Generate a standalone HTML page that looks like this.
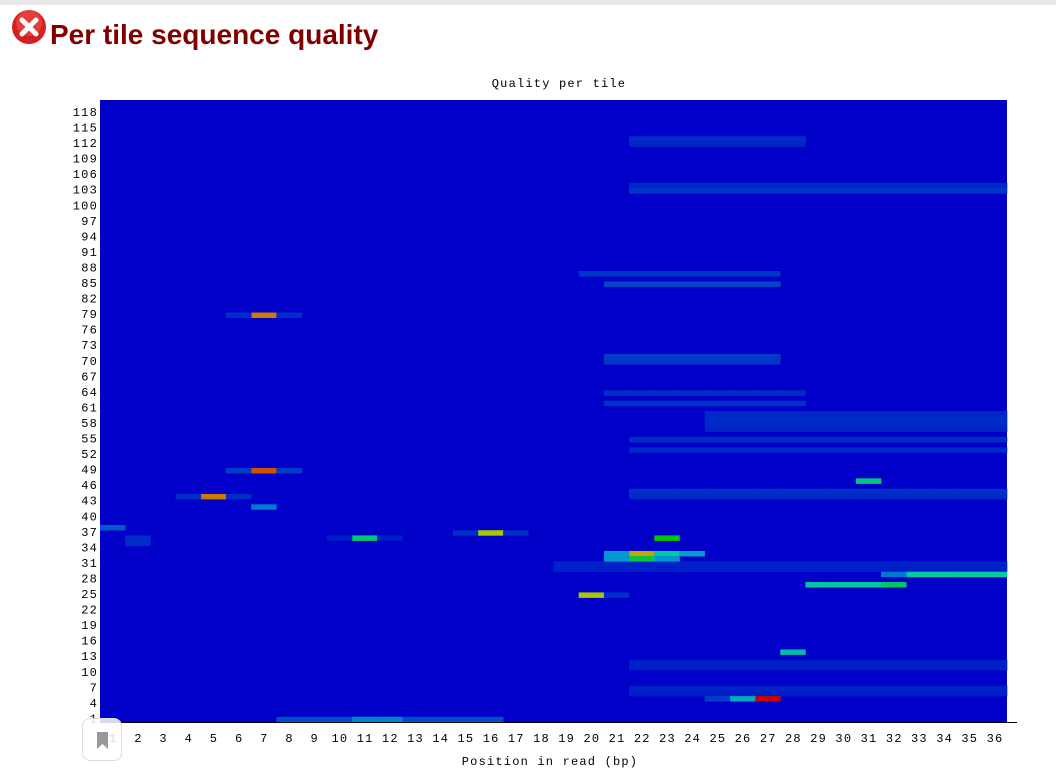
<!DOCTYPE html>
<html><head><meta charset="utf-8"><style>
body{margin:0;width:1056px;height:769px;background:#fff;overflow:hidden;font-family:"Liberation Sans",sans-serif;position:relative}
.topbar{position:absolute;left:0;top:0;width:1056px;height:5px;background:#e8e8e8}
h2{position:absolute;left:50px;top:19px;margin:0;font-size:28px;font-weight:bold;color:#800000}
</style></head><body>
<div class="topbar"></div>
<svg style="position:absolute;left:11px;top:9px" width="36" height="36">
<circle cx="18" cy="18" r="17" fill="#d42020"/><circle cx="18" cy="14" r="13" fill="#f05050" opacity="0.6"/>
<path d="M11 11 L25 25 M25 11 L11 25" stroke="#fff" stroke-width="5" stroke-linecap="round"/></svg>
<h2>Per tile sequence quality</h2>
<svg id="chart" style="position:absolute;left:0;top:0" width="1056" height="769"></svg>
<div style="position:absolute;left:82px;top:718px;width:38px;height:41px;border:1px solid #ddd;border-radius:8px;background:rgba(255,255,255,0.85)">
<svg width="38" height="41"><path d="M14 13 h11 v17 l-5.5 -5 l-5.5 5z" fill="#999"/></svg></div>
<script>
const positions = [1,2,3,4,5,6,7,8,9,10,11,12,13,14,15,16,17,18,19,20,21,22,23,24,25,26,27,28,29,30,31,32,33,34,35,36];
const yTicks = [1,4,7,10,13,16,19,22,25,28,31,34,37,40,43,46,49,52,55,58,61,64,67,70,73,76,79,82,85,88,91,94,97,100,103,106,109,112,115,118];
// band data: tile, start position, end position, value
const bandTiles = [113,112,104,103,87,85,71,70,64,62,60,59,58,57,55,53,45,44,31,30,12,11,7,6,1,1];
const bandStart = [22,22,22,22,20,21,21,21,21,21,25,25,25,25,22,22,22,22,19,19,22,22,22,22,8,11];
const bandEnd   = [28,28,36,36,27,27,27,27,28,28,36,36,36,36,36,36,36,36,36,36,36,36,36,36,16,12];
const bandVals  = [1.5,1.2,1.3,1.8,1.8,2.2,2,1.8,1.5,1.6,1.3,1.5,1.4,1.2,1.5,1.3,1.6,1.4,1.1,1,1.1,1,1.1,1,2.3,3.2];
// hotspot cells
const cellPos  = [7,6,8,7,6,8,5,4,6,7,1,2,2,11,10,12,16,15,17,23,22,22,23,23,21,21,24,20,21,31,29,30,31,32,33,34,35,36,32,28,27,26,25];
const cellTile = [79,79,79,49,49,49,44,44,44,42,38,36,35,36,36,36,37,37,37,36,33,32,33,32,33,32,33,25,25,47,27,27,27,27,29,29,29,29,29,14,5,5,5];
const cellVals = [8.4,1.5,1.5,9,2,2,8.4,1.5,1.5,3,2.5,1.5,1.5,5.3,1,1,7,1.5,1.5,6,7.6,5.6,5,3.5,3.6,3.6,3.8,7,1.5,5.2,5,5,5,5.4,5,5,5,5,3,4.6,10,4,2];
const X0=100,X1=1007,Y0=100,Y1=722,NT=120;
const cw=(X1-X0)/positions.length, rh=(Y1-Y0)/NT;
const xPos=p=>X0+(p-1)*cw;
const yTile=t=>Y1-t*rh;
const stops=[[0,0,0,200],[2,0,60,200],[3.5,0,150,210],[5,0,200,160],[6,0,200,0],[7,170,200,0],[8,200,150,0],[9,210,80,0],[10,200,0,0]];
function col(v){v=Math.max(0,Math.min(10,v));for(let i=1;i<stops.length;i++){if(v<=stops[i][0]){const a=stops[i-1],b=stops[i],f=(v-a[0])/(b[0]-a[0]);return `rgb(${[1,2,3].map(k=>Math.round(a[k]+f*(b[k]-a[k]))).join(',')})`;}}return 'rgb(200,0,0)';}
const svg=document.getElementById('chart');const NS='http://www.w3.org/2000/svg';
function mk(tag,attrs){const e=document.createElementNS(NS,tag);for(const k in attrs)e.setAttribute(k,attrs[k]);svg.appendChild(e);return e;}
const bg=mk('rect',{x:X0,y:Y0,width:X1-X0,height:Y1-Y0,fill:col(0)});


for(let i=0;i<bandTiles.length;i++){for(let p=bandStart[i];p<=bandEnd[i];p++){
const r=mk('rect',{x:xPos(p),y:yTile(bandTiles[i]),width:cw+0.3,height:rh+0.3,fill:col(bandVals[i])});

}}
for(let i=0;i<cellPos.length;i++){
const r=mk('rect',{x:xPos(cellPos[i]),y:yTile(cellTile[i]),width:cw+0.3,height:rh+0.3,fill:col(cellVals[i])});

}
const ax=mk('line',{x1:X0,y1:Y1+0.5,x2:1017,y2:Y1+0.5,stroke:'#000','stroke-width':1});


const tf='font-family:"Liberation Mono",monospace;font-size:12px;letter-spacing:1.2px';
yTicks.forEach(t=>{const e=mk('text',{x:98,y:yTile(t)+rh/2+3,'text-anchor':'end',style:tf,fill:'#000'});e.textContent=t;

});
positions.forEach(p=>{const e=mk('text',{x:xPos(p)+cw/2+0.6,y:742,'text-anchor':'middle',style:tf,fill:'#000'});e.textContent=p;

});
const t1=mk('text',{x:559,y:87,'text-anchor':'middle',style:tf,fill:'#000'});t1.textContent='Quality per tile';


const t2=mk('text',{x:550,y:765,'text-anchor':'middle',style:tf,fill:'#000'});t2.textContent='Position in read (bp)';


</script>
</body></html>
